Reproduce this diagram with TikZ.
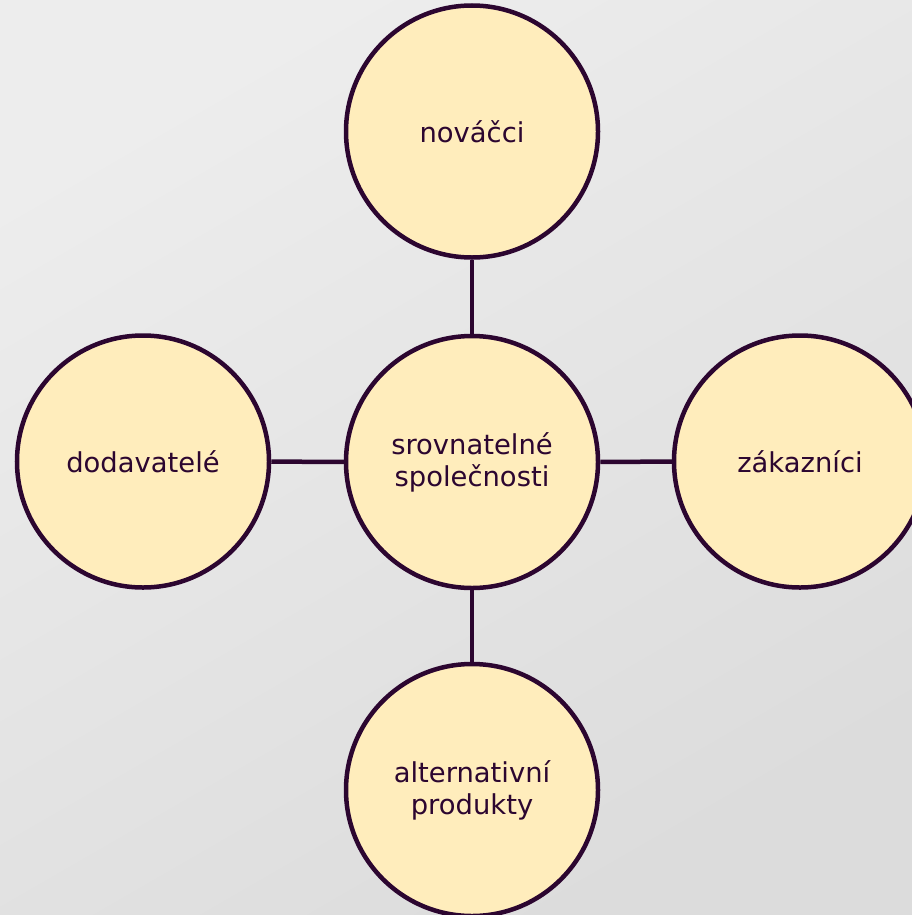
\documentclass[tikz,border=0pt]{standalone}
\usepackage{fontspec}
\setmainfont{DejaVu Sans}
\definecolor{bgA}{HTML}{EDEDED}
\definecolor{bgB}{HTML}{DCDCDC}
\definecolor{ink}{HTML}{2C0630}
\definecolor{cfill}{HTML}{FFEDBC}
\tikzset{
  bubble/.style={circle, draw=ink, fill=cfill, line width=4.5bp, minimum size=252bp, inner sep=0pt, align=center, text=ink, font=\fontsize{27.5}{32}\selectfont},
  link/.style={draw=ink, line width=4.5bp}
}
\begin{document}
\begin{tikzpicture}[x=1bp,y=-1bp]
\useasboundingbox (0,0) rectangle (912,915);
\shade[top color=bgA, bottom color=bgB, shading angle=30] (0,0) rectangle (912,915);
\begin{scope}
\clip (0,0) rectangle (912,915);
\node[bubble] (n) at (472,131.5) {nováčci};
\node[bubble] (c) at (472,462) {srovnatelné\\společnosti};
\node[bubble] (z) at (800,461.5) {zákazníci};
\node[bubble] (d) at (143,461.5) {dodavatelé};
\node[bubble] (a) at (472,790) {alternativní\\produkty};
\draw[link] (n) -- (c);
\draw[link] (c) -- (z);
\draw[link] (c) -- (d);
\draw[link] (c) -- (a);
\end{scope}
\end{tikzpicture}
\end{document}
